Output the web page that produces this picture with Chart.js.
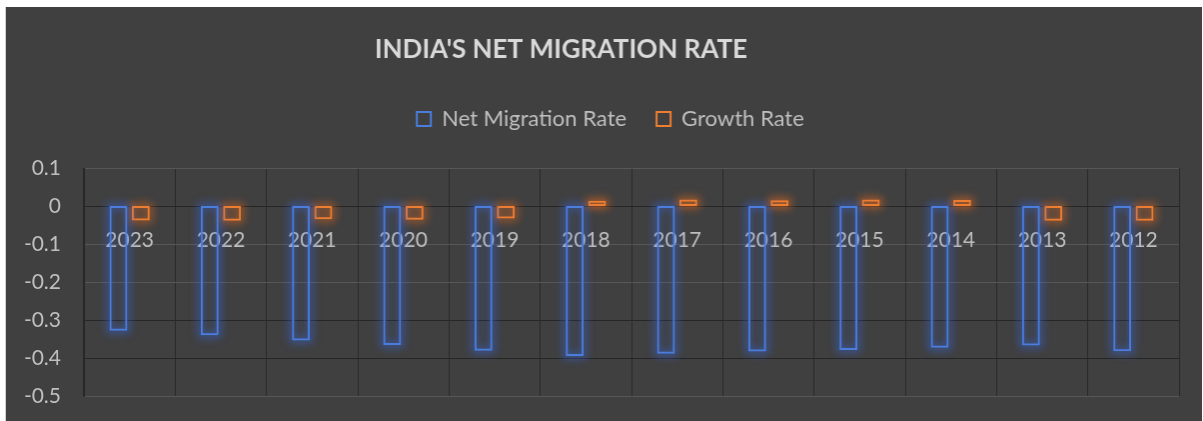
<!DOCTYPE html>
<html>
<head>
<meta charset="utf-8">
<script src="https://cdn.jsdelivr.net/npm/chart.js@4.4.1/dist/chart.umd.min.js"></script>
<style>
  body { margin: 0; background: #ffffff; }
  #Graph { position: absolute; left: 5px; top: 7px; border-left: 1px solid #cfcfcf; background: #404040; }
</style>
</head>
<body>
<canvas id="Graph" width="1197" height="414"></canvas>
<script>
// data
const years = ['2023', '2022', '2021', '2020', '2019', '2018', '2017', '2016', '2015', '2014', '2013', '2012'];
const netMigrationRate = [-0.328, -0.340, -0.354, -0.366, -0.381, -0.395, -0.389, -0.383, -0.379, -0.373, -0.367, -0.382];
const growthRate = [-0.038, -0.039, -0.035, -0.036, -0.033, 0.014, 0.017, 0.015, 0.017, 0.016, -0.039, -0.039];
const chartTitle = "INDIA'S NET MIGRATION RATE";

const ctx = document.getElementById('Graph').getContext('2d');
const textColor = '#bfbfbf';
const glowColors = ['rgba(55,105,235,0.75)', 'rgba(240,110,30,0.75)'];

// soft glow round the bar outlines (bars clip their own drawing, so paint it first).
// the stroke itself goes off-canvas, only its blurred shadow lands on the bars
const glow = {
  id: 'glow',
  beforeDatasetDraw(chart, args) {
    const c = chart.ctx;
    const shift = 5000;
    c.save();
    c.strokeStyle = '#000';
    c.shadowColor = glowColors[args.index];
    c.shadowBlur = 9;
    c.shadowOffsetX = shift;
    c.lineWidth = 4;
    args.meta.data.forEach(bar => {
      const { x, y, base, width } = bar.getProps(['x', 'y', 'base', 'width'], true);
      c.strokeRect(x - width / 2 - shift, Math.min(y, base), width, Math.abs(base - y));
    });
    c.restore();
  }
};

// extra room between legend and plot, and nudge the legend a bit right
const legendMargin = {
  id: 'legendMargin',
  beforeInit(chart) {
    const fit = chart.legend.fit;
    chart.legend.fit = function () {
      fit.bind(chart.legend)();
      this.height += 28;
      if (this.lineWidths) this.lineWidths[0] -= 36;
    };
  }
};

// title sits a bit left of centre, so draw it by hand
const titleText = {
  id: 'titleText',
  afterDraw(chart) {
    const c = chart.ctx;
    c.save();
    c.font = 'bold 26px Lato';
    c.fillStyle = '#d9d9d9';
    c.textAlign = 'left';
    c.textBaseline = 'alphabetic';
    c.fillText(chartTitle, 369, 51);
    c.restore();
  }
};

const darkLines = [0, -0.3, -0.4];

new Chart(ctx, {
  type: 'bar',
  data: {
    labels: years,
    datasets: [{
      label: 'Net Migration Rate',
      data: netMigrationRate,
      backgroundColor: 'rgba(0,0,0,0)',
      borderColor: '#4a7ddc',
      borderWidth: 2,
      borderSkipped: false,
      categoryPercentage: 0.49,
      barPercentage: 0.8,
    }, {
      label: 'Growth Rate',
      data: growthRate,
      backgroundColor: 'rgba(0,0,0,0)',
      borderColor: '#ed7d31',
      borderWidth: 2,
      borderSkipped: false,
      categoryPercentage: 0.49,
      barPercentage: 0.8,
    }],
  },
  plugins: [glow, legendMargin, titleText],
  options: {
    responsive: false,
    animation: false,
    devicePixelRatio: 1,
    layout: { padding: { left: 0, top: 71, right: 23, bottom: 25 } },
    plugins: {
      title: { display: false },
      tooltip: { enabled: false },
      legend: {
        position: 'top',
        labels: {
          color: textColor,
          font: { family: 'Lato', size: 22 },
          boxWidth: 14,
          boxHeight: 14,
          padding: 30,
        },
      },
    },
    scales: {
      x: {
        position: { y: 0 },
        grid: { color: '#2a2a2a', drawTicks: false, offset: true },
        border: { color: '#262626' },
        ticks: { color: textColor, font: { family: 'Lato', size: 21 }, padding: 22 },
      },
      y: {
        min: -0.5,
        max: 0.1,
        afterFit(scale) {
          scale.width = 78;
          scale.paddingTop = 0;
          scale.paddingBottom = 0;
        },
        grid: {
          drawTicks: false,
          color: (c) => darkLines.some(v => Math.abs(v - c.tick.value) < 1e-6) ? '#262626' : '#575757',
        },
        border: { color: '#262626' },
        ticks: {
          stepSize: 0.1,
          color: textColor,
          font: { family: 'Lato', size: 21 },
          padding: 23,
          callback: (v) => Math.abs(v) < 1e-9 ? '0' : String(Number(v.toFixed(1))),
        },
      },
    },
  },
});
</script>
</body>
</html>
